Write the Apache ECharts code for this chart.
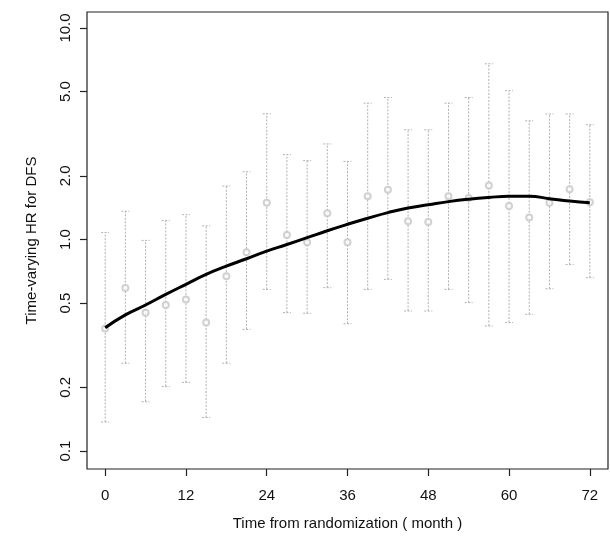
<!DOCTYPE html>
<html>
<head>
<meta charset="utf-8">
<script src="https://cdn.jsdelivr.net/npm/echarts@6/dist/echarts.min.js"></script>
<style>
html,body{margin:0;padding:0;background:#fff;}
#chart{width:610px;height:536px;}
</style>
</head>
<body>
<div id="chart"></div>
<script>
// ---- data ----
const months = [0,3,6,9,12,15,18,21,24,27,30,33,36,39,42,45,48,51,54,57,60,63,66,69,72];
const hrEstimate = [0.38,0.59,0.45,0.49,0.52,0.405,0.67,0.87,1.49,1.05,0.97,1.33,0.97,1.60,1.72,1.22,1.21,1.60,1.57,1.80,1.44,1.27,1.49,1.73,1.50];
const ciLower = [0.137,0.26,0.171,0.202,0.211,0.144,0.26,0.376,0.581,0.451,0.448,0.592,0.40,0.581,0.648,0.459,0.459,0.581,0.503,0.39,0.405,0.443,0.585,0.762,0.66];
const ciUpper = [1.08,1.36,0.99,1.23,1.31,1.16,1.79,2.09,3.93,2.52,2.36,2.83,2.34,4.41,4.69,3.30,3.30,4.41,4.69,6.77,5.05,3.64,3.92,3.92,3.49];
const curveHR = [0.383,0.440,0.490,0.55,0.614,0.684,0.748,0.811,0.881,0.947,1.02,1.10,1.18,1.26,1.34,1.41,1.46,1.51,1.55,1.58,1.60,1.60,1.56,1.52,1.49];
const yTickValues = [0.1,0.2,0.5,1,2,5,10];
const yTickLabels = ['0.1','0.2','0.5','1.0','2.0','5.0','10.0'];
const xTickValues = [0,12,24,36,48,60,72];
const xTitle = 'Time from randomization ( month )';
const yTitle = 'Time-varying HR for DFS';

const lg = v => Math.log10(v);
const yTickLog = yTickValues.map(lg);

const chart = echarts.init(document.getElementById('chart'), null, {renderer:'canvas'});
const FONT = 'Liberation Sans, Arial, sans-serif';

const barData = months.map((m,i) => [m, lg(ciLower[i]), lg(ciUpper[i])]);

const option = {
  animation: false,
  backgroundColor: '#fff',
  grid: {left: 87, right: 2, top: 12, bottom: 66, show: true, borderColor: '#222', borderWidth: 1.2, backgroundColor: 'transparent'},
  xAxis: {
    type: 'value', min: -2.7, max: 74.7,
    name: xTitle, nameLocation: 'middle', nameGap: 47,
    nameTextStyle: {fontFamily: FONT, fontSize: 15, color: '#111'},
    axisLine: {show: false, onZero: false},
    splitLine: {show: false},
    axisTick: {show: true, inside: false, length: 7, customValues: xTickValues, lineStyle: {color: '#222', width: 1.2}},
    axisLabel: {customValues: xTickValues, margin: 19, fontFamily: FONT, fontSize: 15, color: '#111'}
  },
  yAxis: {
    type: 'value', min: -1.085, max: 1.0755,
    name: yTitle, nameLocation: 'middle', nameGap: 48, nameRotate: 90,
    nameTextStyle: {fontFamily: FONT, fontSize: 15, color: '#111'},
    axisLine: {show: false, onZero: false},
    splitLine: {show: false},
    axisTick: {show: true, inside: false, length: 7, customValues: yTickLog, lineStyle: {color: '#222', width: 1.2}},
    axisLabel: {
      customValues: yTickLog, rotate: 90, margin: 14, fontFamily: FONT, fontSize: 15, color: '#111',
      formatter: function(v){
        for (let i=0;i<yTickLog.length;i++){ if (Math.abs(yTickLog[i]-v) < 1e-6) return yTickLabels[i]; }
        return '';
      }
    }
  },
  series: [
    {
      type: 'custom',
      data: barData,
      z: 2,
      renderItem: function(params, api){
        const x = api.value(0);
        const lo = api.coord([x, api.value(1)]);
        const hi = api.coord([x, api.value(2)]);
        const w = 4;
        const st = {stroke: '#b0b0b0', lineWidth: 1, lineDash: [2, 1.5]};
        return {type: 'group', children: [
          {type: 'line', shape: {x1: lo[0], y1: lo[1], x2: hi[0], y2: hi[1]}, style: st},
          {type: 'line', shape: {x1: lo[0]-w, y1: lo[1], x2: lo[0]+w, y2: lo[1]}, style: st},
          {type: 'line', shape: {x1: hi[0]-w, y1: hi[1], x2: hi[0]+w, y2: hi[1]}, style: st}
        ]};
      }
    },
    {
      type: 'scatter',
      data: months.map((m,i) => [m, lg(hrEstimate[i])]),
      symbol: 'emptyCircle', symbolSize: 6, z: 3,
      itemStyle: {color: '#c6c6c6', borderWidth: 0.8}
    },
    {
      type: 'line',
      data: months.map((m,i) => [m, lg(curveHR[i])]),
      smooth: true, showSymbol: false, symbol: 'none', z: 4,
      lineStyle: {color: '#000', width: 3}
    }
  ]
};
chart.setOption(option);
</script>
</body>
</html>
